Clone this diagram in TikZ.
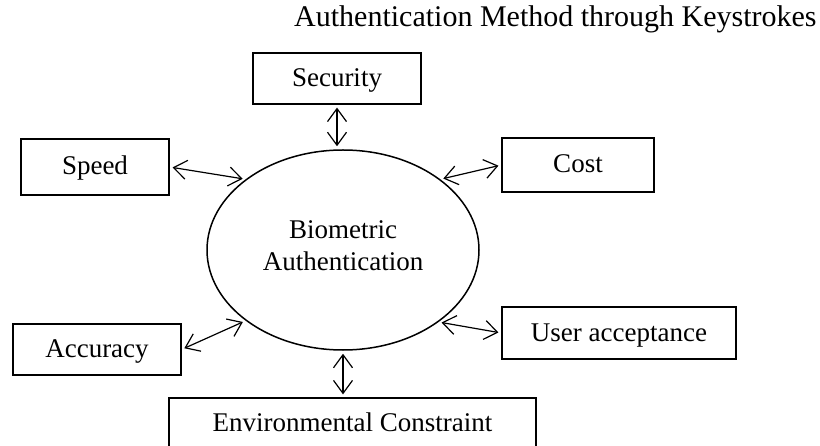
\documentclass[tikz,border=0pt]{standalone}
\usepackage{fontspec}
\setmainfont{Liberation Serif}
\usetikzlibrary{arrows.meta,shapes.geometric}

\begin{document}
\begin{tikzpicture}[x=1bp, y=-1bp,
    box/.style={draw, line width=1.2bp, inner sep=0pt, text height=19bp, text depth=3bp,
      font=\fontsize{27bp}{32bp}\selectfont},
    bioshape/.style={ellipse, draw, line width=1.5bp, inner sep=0pt, minimum width=272bp,
      minimum height=200bp, align=center, text depth=9bp, font=\fontsize{27bp}{32bp}\selectfont},
    link/.style={<->, >={Straight Barb[length=13bp,width=19bp]}, line width=1.2bp,
      shorten <=3bp, shorten >=3bp}]
    \useasboundingbox[fill=white] (0,0) rectangle (820,446);

    \node[anchor=base west, inner sep=0pt, font=\fontsize{30bp}{36bp}\selectfont] (title)
      at (294,27) {Authentication Method through Keystrokes};

    \node[bioshape] (bio) at (343,250) {Biometric\\Authentication};

    \node[box, minimum width=168bp, minimum height=51bp] (sec) at (337,78.5) {Security};
    \node[box, minimum width=148bp, minimum height=56bp] (spd) at (95,167) {Speed};
    \node[box, minimum width=152bp, minimum height=54bp] (cost) at (578,165) {Cost};
    \node[box, minimum width=234bp, minimum height=52bp] (ua) at (619,333) {User acceptance};
    \node[box, minimum width=168bp, minimum height=51bp] (acc) at (97,349.5) {Accuracy};
    \node[box, minimum width=367bp, minimum height=51bp] (env) at (352.5,423.5) {Environmental Constraint};

    \draw[link] (sec.south) -- (sec.south |- bio.north);
    \draw[link] (spd.east) -- (bio.144);
    \draw[link] (bio.36) -- (cost.west);
    \draw[link] (bio.-37) -- (ua.west);
    \draw[link] (acc.east) -- (bio.216);
    \draw[link] (bio.south) -- (bio.south |- env.north);
    %\draw[link] (bio.south) -- (env.north);
\end{tikzpicture}
\end{document}
